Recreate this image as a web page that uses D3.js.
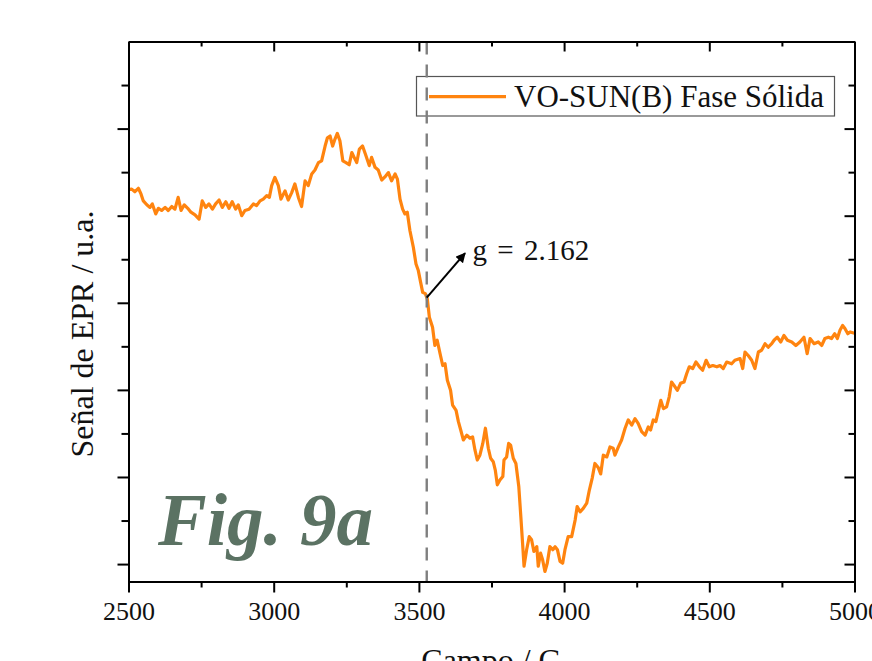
<!DOCTYPE html>
<html>
<head>
<meta charset="utf-8">
<script src="https://cdn.jsdelivr.net/npm/d3@7"></script>
<style>
  html, body { margin: 0; padding: 0; background: #fff; overflow: hidden; }
  svg { display: block; }
  text { font-family: "Liberation Serif", "Times New Roman", serif; fill: #111; }
</style>
</head>
<body>
<svg id="chart" width="872" height="661"></svg>
<script>
// ---- data ----
const field = [
  2500,2511,2522,2534,2543,2551,2563,2574,2582,2594,2603,2614,2626,2637,2649,2660,2671,2681,2692,2704,
  2715,2729,2743,2754,2766,2777,2789,2800,2812,2823,2835,2846,2857,2869,2878,2890,2901,2915,2930,2941,
  2953,2964,2976,2985,2993,3004,3016,3025,3039,
  3050,3062,3073,3085,3096,3108,3119,3131,3142,3154,3165,3177,3185,3194,3203,3211,3219,3228,3238,3249,
  3260,3269,3277,3286,3295,3306,3318,3329,3337,3349,3360,3372,3383,3395,3406,3418,3426,3435,3444,3452,
  3460,3469,3481,3490,3498,3506,3513,3522,3529,
  3536,3547,3555,3563,3573,3582,3590,3598,3609,3616,3628,3636,3644,3653,3665,3676,3685,3693,3701,3710,
  3720,3729,3739,3747,3756,3763,3770,3779,3789,3793,3802,3809,3816,3825,3834,3844,3851,3857,3862,3871,
  3880,3888,3896,3906,3911,3919,3926,3934,3942,3951,3961,3969,3977,3986,3995,4003,4014,4026,4038,4045,
  4055,4066,4078,4087,
  4097,4106,4118,4126,4135,4147,4158,4169,4175,4187,4198,4210,4221,4233,4244,4255,4267,4279,4290,4298,
  4307,4316,4324,4333,4342,4353,4362,4370,4378,4390,4401,4413,4422,4431,4443,4454,4466,4477,4489,4500,
  4512,4526,4537,4548,4560,4577,4588,4606,4615,4623,4634,4646,4657,4669,4680,4692,4703,4715,4723,4734,
  4746,4757,4769,4784,4798,4812,4826,4837,4847,4861,4875,4887,4898,4910,4921,4932,4941,4950,4959,4967,
  4977,4985,5000
];
const signal = [
  8.60,8.61,8.55,8.63,8.50,8.34,8.25,8.19,8.27,8.04,8.17,8.12,8.19,8.12,8.21,8.15,8.42,8.12,8.25,8.17,
  8.08,8.02,7.92,8.34,8.19,8.27,8.15,8.27,8.36,8.19,8.32,8.17,8.32,8.15,8.25,8.00,8.12,8.15,8.27,8.23,
  8.34,8.38,8.46,8.42,8.69,8.88,8.69,8.38,8.57,
  8.36,8.53,8.73,8.42,8.21,8.80,8.69,8.96,9.05,9.22,9.26,9.60,9.79,9.83,9.60,9.76,9.89,9.72,9.26,9.22,
  9.17,9.45,9.34,9.22,9.53,9.60,9.37,9.15,9.34,9.11,9.05,8.82,8.89,8.99,8.80,8.96,8.84,8.38,8.15,8.04,
  8.08,7.66,7.27,6.89,6.74,6.47,6.24,6.21,6.09,
  5.67,5.44,5.02,5.14,4.83,4.56,4.60,4.22,3.99,3.65,3.53,3.27,3.08,2.85,2.96,2.89,2.92,2.62,2.39,2.50,
  2.77,3.12,2.66,2.43,2.35,2.16,1.82,1.93,2.01,2.39,2.46,2.77,2.73,2.43,2.31,1.78,1.09,0.48,-0.05,0.33,
  0.63,0.56,0.29,0.40,-0.05,0.25,0.10,-0.17,0.02,0.40,0.33,0.40,0.33,0.06,0.02,0.33,0.63,0.63,1.01,1.32,
  1.20,1.28,1.40,1.70,
  1.98,2.31,2.21,2.07,2.50,2.46,2.69,2.66,2.50,2.69,2.85,3.12,3.31,3.19,3.34,3.23,3.04,2.96,3.15,3.08,
  3.31,3.27,3.50,3.76,3.57,3.61,3.84,4.18,4.11,3.99,4.15,4.18,4.37,4.53,4.49,4.64,4.53,4.45,4.68,4.53,
  4.56,4.53,4.56,4.49,4.64,4.60,4.68,4.72,4.49,4.87,4.79,4.68,4.49,4.87,4.91,5.06,4.98,5.06,5.14,5.21,
  5.10,5.25,5.14,5.10,5.02,5.10,5.21,4.83,5.18,5.06,5.10,5.02,5.18,5.21,5.18,5.29,5.18,5.37,5.48,5.41,
  5.29,5.33,5.30
];
const xMajorTicks = [2500, 3000, 3500, 4000, 4500, 5000];
const xMinorTicks = [2750, 3250, 3750, 4250, 4750];
const yMajorTicks = [0, 2, 4, 6, 8, 10];
const yMinorTicks = [1, 3, 5, 7, 9, 11];
const seriesName = "VO-SUN(B) Fase Sólida";
const gField = 3527;
const gLabel = "g = 2.162";
const arrowFrom = [3527, 6.12];
const arrowTo = [3659, 7.14];
const gLabelPos = [3685, 6.99];
const xTitle = "Campo / G";
const yTitle = "Señal de EPR / u.a.";
const figLabel = "Fig. 9a";

// ---- layout ----
const svg = d3.select("#chart");
const L = 128.5, R = 854.5, T = 41.5, B = 581.5;
const x = d3.scaleLinear().domain([2500, 5000]).range([L, R]);
const y = d3.scaleLinear().domain([-0.4, 12]).range([B, T]);
const orange = "#ff840f";

svg.append("rect").attr("width", 872).attr("height", 661).attr("fill", "#fff");

// Fig label
svg.append("text")
  .attr("x", 158).attr("y", 545)
  .style("font-size", "73px").style("font-weight", "bold").style("font-style", "italic")
  .style("fill", "#5b7263")
  .text(figLabel);

// curve
const pts = field.map((f, i) => [f, signal[i]]);
svg.append("path")
  .datum(pts)
  .attr("fill", "none")
  .attr("stroke", orange)
  .attr("stroke-width", 3.2)
  .attr("stroke-linejoin", "round")
  .attr("d", d3.line().x(d => x(d[0])).y(d => y(d[1])));

// legend
const lg = svg.append("g");
lg.append("rect").attr("x", 416.5).attr("y", 76.5).attr("width", 418).attr("height", 39.5)
  .attr("fill", "#fff").attr("stroke", "#555").attr("stroke-width", 1.2);
lg.append("line").attr("x1", 429).attr("x2", 506).attr("y1", 96.7).attr("y2", 96.7)
  .attr("stroke", orange).attr("stroke-width", 3.2);
lg.append("text").attr("x", 514).attr("y", 107.3).style("font-size", "31px").text(seriesName);

// dashed g line
svg.append("line")
  .attr("x1", x(gField)).attr("x2", x(gField))
  .attr("y1", T).attr("y2", B)
  .attr("stroke", "#7f7f7f").attr("stroke-width", 2.4)
  .attr("stroke-dasharray", "13,10");

// arrow
svg.append("defs").append("marker")
  .attr("id", "ah").attr("viewBox", "0 0 10 10").attr("refX", 9).attr("refY", 5)
  .attr("markerWidth", 11).attr("markerHeight", 10).attr("markerUnits", "userSpaceOnUse")
  .attr("orient", "auto")
  .append("path").attr("d", "M0,0 L10,5 L0,10 Z").attr("fill", "#000");
svg.append("line")
  .attr("x1", x(arrowFrom[0])).attr("y1", y(arrowFrom[1]))
  .attr("x2", x(arrowTo[0])).attr("y2", y(arrowTo[1]))
  .attr("stroke", "#000").attr("stroke-width", 2)
  .attr("marker-end", "url(#ah)");
svg.append("text")
  .attr("x", x(gLabelPos[0])).attr("y", y(gLabelPos[1]))
  .style("font-size", "29px").style("word-spacing", "3px")
  .text(gLabel);

// axes
function styleAxis(g) {
  g.selectAll(".domain").attr("stroke", "#000").attr("stroke-width", 2);
  g.selectAll(".tick line").attr("stroke", "#000").attr("stroke-width", 2);
}
// bottom
const bMaj = svg.append("g").attr("transform", `translate(0,${B})`)
  .call(d3.axisBottom(x).tickValues(xMajorTicks).tickSize(11).tickSizeOuter(0).tickPadding(9).tickFormat(d3.format("d")));
bMaj.selectAll("text").style("font-size", "26px").style("font-family", "Liberation Serif, serif").attr("fill", "#111");
styleAxis(bMaj);
const bMin = svg.append("g").attr("transform", `translate(0,${B})`)
  .call(d3.axisBottom(x).tickValues(xMinorTicks).tickSize(6).tickSizeOuter(0).tickFormat(""));
styleAxis(bMin);
// top (inward)
const tMaj = svg.append("g").attr("transform", `translate(0,${T})`)
  .call(d3.axisTop(x).tickValues(xMajorTicks).tickSize(-10).tickSizeOuter(0).tickFormat(""));
styleAxis(tMaj);
const tMin = svg.append("g").attr("transform", `translate(0,${T})`)
  .call(d3.axisTop(x).tickValues(xMinorTicks).tickSize(-5).tickSizeOuter(0).tickFormat(""));
styleAxis(tMin);
// left (outward)
const lMaj = svg.append("g").attr("transform", `translate(${L},0)`)
  .call(d3.axisLeft(y).tickValues(yMajorTicks).tickSize(11).tickSizeOuter(0).tickFormat(""));
styleAxis(lMaj);
const lMin = svg.append("g").attr("transform", `translate(${L},0)`)
  .call(d3.axisLeft(y).tickValues(yMinorTicks).tickSize(7).tickSizeOuter(0).tickFormat(""));
styleAxis(lMin);
// right (inward)
const rMaj = svg.append("g").attr("transform", `translate(${R},0)`)
  .call(d3.axisRight(y).tickValues(yMajorTicks).tickSize(-10).tickSizeOuter(0).tickFormat(""));
styleAxis(rMaj);
const rMin = svg.append("g").attr("transform", `translate(${R},0)`)
  .call(d3.axisRight(y).tickValues(yMinorTicks).tickSize(-6).tickSizeOuter(0).tickFormat(""));
styleAxis(rMin);

// titles
svg.append("text")
  .attr("x", (L + R) / 2 + 0).attr("y", 671)
  .attr("text-anchor", "middle").style("font-size", "32px")
  .text(xTitle);
svg.append("text")
  .attr("transform", `translate(93,334) rotate(-90)`)
  .attr("text-anchor", "middle").style("font-size", "32px")
  .text(yTitle);
</script>
</body>
</html>
